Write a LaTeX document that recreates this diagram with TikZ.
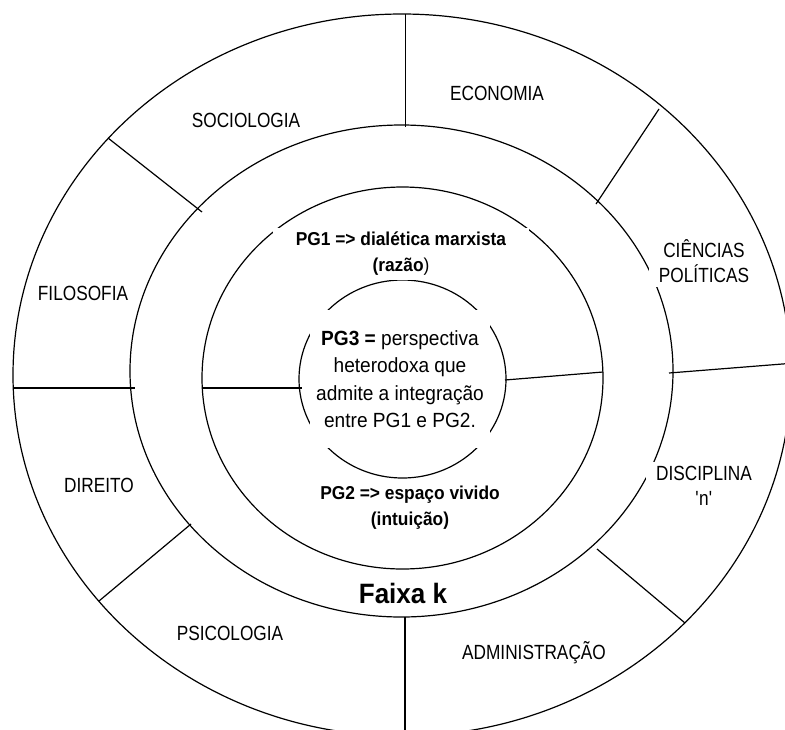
\documentclass[tikz,border=0pt]{standalone}
\usepackage{fontspec}
\setmainfont{Liberation Sans}[FakeStretch=0.93]
\newfontfamily\narrowsans{Liberation Sans}[FakeStretch=0.84]

\begin{document}
\begin{tikzpicture}[x=0.75pt,y=-0.75pt,line width=0.9pt,
   disc/.style={fill=white,inner xsep=7.2pt,inner ysep=3.6pt,align=center,
      font=\narrowsans\fontsize{15.4}{18.8}\selectfont},
   pgbox/.style={fill=white,align=center,font=\fontsize{14}{19.5}\selectfont}]
   \useasboundingbox (0,0) rectangle (785,729);

   \draw (402,375) ellipse [x radius=389, y radius=361];
   \draw (401.5,371) ellipse [x radius=271.5, y radius=246];
   \draw (402.5,378) ellipse [x radius=200.5, y radius=191];
   \draw (402.5,379) ellipse [x radius=103.5, y radius=99];

   \draw (405.7,14) -- (405.7,127);
   \draw (405,617) -- (405,740);
   \draw (108,138) -- (202,212);
   \draw (659,109) -- (596,204);
   \draw (13,388) -- (135,388);
   \draw (202,388) -- (302,388);
   \draw (505,380) -- (603,372);
   \draw (669,373) -- (795,363);
   \draw (99,601) -- (191,524);
   \draw (597,549) -- (685,623);

   \node[disc] (soc) at (246,120) {SOCIOLOGIA};
   \node[disc] (eco) at (497,93) {ECONOMIA};
   \node[disc] (cie) at (704,261) {CIÊNCIAS\\POLÍTICAS};
   \node[disc] (fil) at (83,293) {FILOSOFIA};
   \node[disc,minimum width=82pt] (dir) at (99,485) {DIREITO};
   \node[disc] (dis) at (704,486) {DISCIPLINA\\\textquotesingle n\textquotesingle};
   \node[disc] (psi) at (230,633) {PSICOLOGIA};
   \node[disc] (adm) at (534,653) {ADMINISTRAÇÃO};

   \node[pgbox,minimum width=192pt,inner ysep=3pt] (pgum) at (401,254)
      {\textbf{PG1 => dialética marxista}\\\textbf{(razão})};
   \node[pgbox,inner sep=2pt] (pgdois) at (410,508)
      {\textbf{PG2 => espaço vivido}\\\textbf{(intuição)}};
   \node[pgbox,minimum width=135pt,minimum height=103.5pt,
      font=\fontsize{15.4}{20.5}\selectfont] (pgtres) at (400,379)
      {\textbf{PG3 =} perspectiva\\heterodoxa que\\admite a integração\\entre PG1 e PG2.};

   \node[font=\fontsize{21}{26}\selectfont\bfseries] (faixa) at (403,593) {Faixa k};
\end{tikzpicture}
\end{document}
